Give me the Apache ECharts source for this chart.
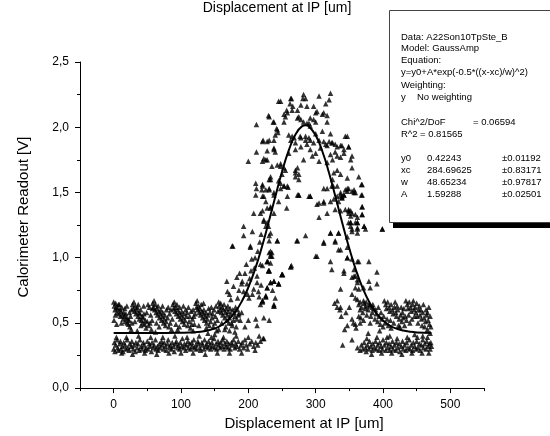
<!DOCTYPE html>
<html><head><meta charset="utf-8">
<script src="https://cdn.jsdelivr.net/npm/echarts@6/dist/echarts.min.js"></script>
<style>html,body{margin:0;padding:0;background:#fff}#c{width:550px;height:436px}</style>
</head><body><div id="c"></div>
<script>
const xTicks = [0,100,200,300,400,500];
const xMinorTicks = [-50,50,150,250,350,450,550];
const fitX = [0,50,100,120,140,150,160,170,180,190,200,210,220,230,240,250,260,270,280,285,290,300,310,320,330,340,350,360,370,380,390,400,410,420,430,440,450,472];
const fitY = [0.422,0.422,0.424,0.428,0.442,0.457,0.482,0.521,0.580,0.662,0.772,0.912,1.080,1.269,1.467,1.658,1.822,1.944,2.008,2.015,2.006,1.938,1.814,1.647,1.455,1.257,1.070,0.903,0.765,0.656,0.575,0.519,0.480,0.456,0.441,0.432,0.427,0.423];

const lowerLeft = [[0,0.30],[1,0.35],[2,0.28],[3,0.33],[5,0.37],[6,0.31],[7,0.29],[9,0.34],[10,0.36],[11,0.30],[13,0.32],[14,0.28],[15,0.35],[17,0.33],[18,0.30],[20,0.37],[21,0.31],[23,0.29],[24,0.34],[26,0.32],[27,0.36],[29,0.30],[30,0.33],[32,0.28],[33,0.35],[35,0.31],[36,0.34],[38,0.29],[39,0.37],[41,0.32],[42,0.30],[44,0.35],[45,0.33],[47,0.29],[48,0.31],[50,0.36],[51,0.30],[53,0.34],[54,0.32],[56,0.28],[57,0.35],[59,0.31],[60,0.33],[62,0.37],[63,0.30],[65,0.32],[66,0.29],[68,0.34],[69,0.31],[71,0.36],[72,0.33],[74,0.30],[75,0.35],[77,0.32],[78,0.29],[80,0.34],[81,0.37],[83,0.31],[84,0.33],[86,0.30],[87,0.35],[89,0.32],[90,0.28],[92,0.34],[93,0.36],[95,0.31],[96,0.33],[98,0.30],[99,0.35],[101,0.32],[102,0.38],[104,0.31],[105,0.34],[107,0.29],[108,0.33],[110,0.36],[111,0.31],[113,0.34],[114,0.30],[116,0.35],[117,0.32],[119,0.37],[120,0.31],[122,0.33],[123,0.30],[125,0.36],[126,0.34],[128,0.31],[129,0.29],[131,0.35],[132,0.33],[134,0.30],[135,0.37],[137,0.32],[138,0.34],[140,0.31],[141,0.36],[143,0.33],[144,0.30],[146,0.35],[147,0.32],[149,0.38],[150,0.31],[152,0.34],[153,0.30],[155,0.36],[156,0.33],[158,0.31],[159,0.35],[161,0.32],[162,0.37],[164,0.30],[165,0.34],[167,0.32],[168,0.36],[170,0.31],[171,0.34],[173,0.30],[175,0.35],[176,0.33],[178,0.37],[180,0.31],[181,0.34],[183,0.32],[185,0.36],[187,0.30],[189,0.33],[191,0.35],[193,0.31],[195,0.37],[197,0.33],[199,0.30],[202,0.34],[205,0.36],[208,0.32],[211,0.35],[214,0.33],[218,0.36],[222,0.38],
[4,0.39],[12,0.27],[19,0.39],[28,0.26],[37,0.40],[46,0.27],[55,0.39],[64,0.26],[73,0.39],[82,0.27],[91,0.40],[100,0.27],[109,0.39],[118,0.27],[127,0.40],[136,0.26],[145,0.39],[154,0.27],[163,0.39],[172,0.27],[182,0.40],[190,0.27],[200,0.39],[210,0.29],[216,0.40]];

const upperLeft = [[0,0.66],[1,0.63],[2,0.60],[3,0.65],[4,0.62],[5,0.58],[6,0.61],[7,0.64],[8,0.57],[9,0.60],[10,0.55],[11,0.59],[12,0.62],[13,0.56],[14,0.53],[15,0.58],[16,0.55],[17,0.51],[18,0.57],[19,0.54],[20,0.50],[21,0.53],[22,0.49],[23,0.52],[24,0.47],
[28,0.64],[29,0.61],[30,0.66],[31,0.59],[32,0.63],[33,0.57],[34,0.60],[35,0.62],[36,0.55],[37,0.58],[38,0.53],[39,0.57],[40,0.60],[41,0.52],[42,0.55],[43,0.50],[44,0.54],[45,0.57],[46,0.49],[47,0.52],[48,0.46],[50,0.51],[52,0.48],[54,0.50],[56,0.45],
[58,0.65],[59,0.62],[60,0.67],[61,0.60],[62,0.64],[63,0.58],[64,0.61],[65,0.56],[66,0.63],[67,0.59],[68,0.54],[69,0.57],[70,0.60],[71,0.52],[72,0.55],[73,0.58],[74,0.50],[75,0.53],[76,0.56],[77,0.48],[78,0.51],[80,0.54],[82,0.47],[84,0.50],[86,0.45],
[88,0.64],[89,0.61],[90,0.66],[91,0.59],[92,0.62],[93,0.57],[94,0.64],[95,0.60],[96,0.55],[97,0.58],[98,0.62],[99,0.53],[100,0.56],[101,0.59],[102,0.51],[103,0.54],[104,0.57],[105,0.49],[106,0.52],[108,0.55],[110,0.48],[112,0.51],[114,0.46],[116,0.49],
[122,0.65],[123,0.62],[124,0.67],[125,0.60],[126,0.63],[127,0.58],[128,0.61],[129,0.56],[130,0.64],[131,0.59],[132,0.54],[133,0.57],[134,0.60],[135,0.52],[136,0.55],[137,0.58],[138,0.50],[139,0.53],[140,0.56],[142,0.48],[144,0.51],[146,0.54],[148,0.47],[150,0.50],
[156,0.66],[157,0.63],[158,0.60],[159,0.65],[160,0.58],[161,0.62],[162,0.56],[163,0.60],[164,0.64],[165,0.54],[166,0.58],[167,0.61],[168,0.52],[169,0.56],[170,0.59],[171,0.50],[172,0.54],[174,0.57],[176,0.48],[178,0.52],[180,0.55],[182,0.47],
[26,0.45],[53,0.62],[119,0.55],[153,0.44],[35,0.44],[62,0.43],[95,0.45],[118,0.44],[140,0.42],[165,0.45],[172,0.44],
[0.5,0.52],[2.5,0.56],[4.5,0.49],[8.5,0.64],[11.5,0.50],[16.5,0.61],[19.5,0.63],[23.5,0.58],[25,0.55],[26.5,0.60],[27,0.50],[31.5,0.51],[36.5,0.64],[40.5,0.48],[44.5,0.63],[49,0.58],[51,0.64],[55,0.56],[57,0.52],[57.5,0.61],[63.5,0.50],[67.5,0.47],[72.5,0.63],[78.5,0.60],[81,0.62],[83,0.57],[85,0.60],[87,0.53],[92.5,0.49],[97.5,0.47],[103.5,0.63],[107,0.60],[109,0.58],[111,0.62],[113,0.55],[115,0.59],[117,0.53],[118,0.60],[120,0.49],[121,0.57],[126.5,0.48],[133.5,0.65],[137.5,0.46],[141,0.61],[143,0.58],[145,0.62],[147,0.57],[149,0.60],[151,0.55],[152,0.63],[154,0.52],[155,0.59],[160.5,0.50],[166.5,0.47],[169.5,0.63],[173,0.61],[175,0.50],[177,0.60],[179,0.58],[181,0.62],[183,0.53],[184,0.60],[186,0.57],[188,0.52]];

const leftFlank = [[168,0.82],[169,0.74],[174,0.68],[177,1.09],[184,0.69],[187,0.88],[190,0.80],[191,0.82],[193,0.74],[198,0.80],[199,0.72],[201,0.69],[204,0.90],[205,0.99],[206,0.72],[208,0.76],[211,0.53],[213,0.86],[213,0.81],[213,0.48],[215,0.74],[216,0.70],[218,0.95],[219,0.79],[221,0.94],[223,0.54],[229,0.97],[230,0.90],[231,1.04],[231,0.90],[231,0.52],[233,1.05],[233,0.96],[233,0.81],[238,0.82],[238,0.64],[240,0.69],[245,0.80],[250,0.87],[251,0.87],[263,0.93],[264,0.94],[228,0.77],[226,0.70],[218,0.64],[221,0.66],[236,0.75],[185,0.56],[190,0.58],[195,0.47],[180,0.43],[200,0.52],[223,0.38],[150,0.41],[156,0.45],[226,0.70],[221,0.67],[238,0.63],[230,0.90],[233,1.01],[228,0.97],[250,0.87],[245,0.80],
[172,0.72],[178,0.78],[183,0.85],[186,0.75],[195,0.88],[197,0.95],[202,0.84],[209,0.92],[210,1.00],[214,1.05],[217,1.12],[219,1.18]];

const peak = [[245,2.20],[264,2.22],[262,2.18],[282,2.25],[281,2.22],[305,2.24],[322,2.26],[320,2.21],[315,2.18],[278,2.17],[287,2.16],[297,2.16],[257,2.13],[265,2.13],[273,2.13],[302,2.12],[230,2.09],[237,2.04],[212,2.02],[253,2.10],[253,2.04],[273,2.07],[278,2.06],[287,2.03],[292,2.07],[300,2.04],[310,2.10],[317,2.04],[242,1.99],[244,1.96],[222,1.90],[231,1.90],[238,1.83],[228,1.82],[212,1.81],[200,1.74],[226,1.75],[235,1.70],[248,1.70],[255,1.67],[250,1.64],[270,1.67],[270,1.65],[275,1.64],[260,1.80],[270,1.83],[278,1.85],[287,1.87],[292,1.83],[300,1.80],[307,1.84],[315,1.87],[320,1.89],[325,1.88],[329,1.87],[339,1.86],[349,1.85],[265,1.93],[278,1.92],[285,1.93],[292,1.90],[300,1.95],[310,1.97],[322,1.95],[344,1.93],[282,1.75],[295,1.78],[305,1.74],[317,1.73],[325,1.75],[332,1.78],[342,1.80],[354,1.78],[327,1.65],[325,1.60],[332,1.67],[337,1.64],[347,1.61],[354,1.69],[364,1.62],[211,1.57],[221,1.56],[233,1.60],[245,1.59],[253,1.55],[259,1.54],[212,1.53],[220,1.52],[231,1.53],[238,1.50],[248,1.57],[211,1.48],[221,1.47],[238,1.48],[226,1.43],[258,1.47],[275,1.48],[292,1.47],[302,1.41],[312,1.43],[317,1.53],[326,1.55],[337,1.48],[339,1.47],[347,1.53],[354,1.51],[357,1.50],[368,1.56],[368,1.48],[208,1.34],[218,1.34],[233,1.38],[245,1.43],[257,1.38],[327,1.45],[334,1.43],[344,1.37],[349,1.36],[352,1.32],[359,1.33],[369,1.33],[369,1.39],[223,1.28],[228,1.27],[226,1.24],[231,1.17],[193,1.24],[193,1.17],[206,1.20],[176,1.09],[203,1.09],[203,1.08],[231,1.13],[243,1.13],[273,1.13],[312,1.12],[329,1.13],[334,1.19],[322,1.19],[349,1.27],[352,1.24],[362,1.27],[372,1.24],[362,1.19],[374,1.22],[399,1.22],[354,1.20],[235,1.04],[233,1.02],[302,1.01],[347,1.00],[334,1.06],
[263,2.22],[285,2.22],[248,2.20],[255,2.08],[258,2.11],[266,2.16],[275,2.08],[282,2.04],[290,2.03],[292,2.01],[297,2.06],[300,2.11],[312,2.11],[317,2.09],[231,2.08],[238,2.04],[228,1.89],[221,1.89],[238,1.90],[243,1.98],[240,1.94],
[260,1.94],[263,1.90],[268,1.92],[270,1.88],[277,1.93],[285,1.90],[290,1.92],[297,1.88],[305,1.90],[312,1.89],[317,1.86],[324,1.88],[332,1.85],[337,1.86],[347,1.93],[342,1.83],[349,1.85],[322,1.79],[329,1.81],[337,1.77],[352,1.75],
[223,1.76],[228,1.75],[221,1.74],[238,1.84],[240,1.81],[243,1.71],[248,1.72],[253,1.69],[233,1.62],[231,1.60],[248,1.53],[253,1.55],[258,1.55],[221,1.55],[226,1.52],[231,1.52],[223,1.47],[233,1.39],[228,1.38],[238,1.34],[221,1.36],[273,1.69],[270,1.62],[275,1.60],[292,1.47],[305,1.42],[275,1.48],
[223,1.29],[230,1.24],[233,1.19],[243,1.13],[272,1.13],[235,1.01],[228,0.97],[231,0.90],[263,0.93],[250,0.87],[238,0.82],[233,0.81],[228,0.77],[245,0.80],[226,0.71],[238,0.63],[221,0.67]];

const rightFlank = [[312,1.53],[324,1.55],[332,1.55],[337,1.50],[344,1.52],[349,1.53],[332,1.47],[339,1.46],[342,1.48],[305,1.31],[317,1.34],[322,1.43],[312,1.42],[329,1.37],[337,1.36],[349,1.37],[354,1.34],[362,1.31],[352,1.27],[359,1.27],[362,1.23],[322,1.19],[334,1.19],[312,1.11],[329,1.12],[347,1.16],[337,1.06],[354,0.99],[362,0.97],[322,0.97],[324,0.91],[342,0.88],[357,0.86],[362,0.83],[337,0.76],[362,0.68],[332,0.67],[337,0.62],[300,1.01],[285,1.17],[290,1.47],[273,1.48],
[369,1.56],[357,1.52],[359,1.50],[347,1.51],[342,1.48],[339,1.46],[369,1.48],[352,1.36],[349,1.34],[369,1.39],[369,1.33],[352,1.27],[362,1.27],[354,1.22],[362,1.22],[372,1.24],[399,1.22],[347,1.08],[347,1.00],[364,0.97],[379,0.97],[342,0.90],[357,0.91],[359,0.86],[354,0.85],[391,0.89],[362,0.81],[379,0.82],[391,0.80],[359,0.77],[364,0.76],[371,0.77],[381,0.77],[354,0.72],[359,0.69],[371,0.67],[366,0.66],[374,0.63],[379,0.64],[384,0.62]];

const upperRight = [[364,0.64],[366,0.60],[368,0.62],[370,0.58],[372,0.65],[374,0.61],[376,0.56],[378,0.60],[380,0.63],[382,0.55],[384,0.58],[386,0.61],[388,0.53],[390,0.57],[392,0.51],[394,0.55],[396,0.49],[398,0.53],[400,0.47],[402,0.67],[404,0.64],[405,0.61],[407,0.66],[409,0.62],[410,0.59],[412,0.64],[414,0.60],[415,0.57],[417,0.62],[419,0.58],[420,0.55],[422,0.60],[424,0.53],[426,0.56],[428,0.51],[430,0.54],[432,0.48],[434,0.67],[436,0.64],[437,0.61],[439,0.66],[441,0.62],[442,0.59],[444,0.64],[446,0.60],[448,0.62],[449,0.58],[451,0.55],[453,0.60],[455,0.56],[457,0.53],[459,0.58],[461,0.54],[463,0.51],[465,0.56],[467,0.52],[469,0.49],[470,0.55],[466,0.45],[470,0.42],[412,0.46],[425,0.47],[350,0.62],[345,0.58],[338,0.55],[356,0.50],[360,0.46],[343,0.45],[328,0.65],[332,0.62],[336,0.60],[347,0.48],[359,0.49],[366,0.50],[364,0.55],[354,0.53],
[367,0.54],[371,0.52],[375,0.66],[381,0.50],[385,0.64],[389,0.60],[393,0.62],[397,0.58],[401,0.55],[403,0.50],[406,0.53],[408,0.48],[411,0.52],[416,0.50],[418,0.66],[421,0.63],[423,0.48],[427,0.62],[429,0.58],[431,0.61],[433,0.55],[435,0.52],[438,0.56],[440,0.50],[443,0.53],[445,0.67],[447,0.55],[450,0.65],[452,0.50],[454,0.63],[456,0.60],[458,0.48],[460,0.64],[462,0.47],[464,0.60],[466,0.58],[468,0.62],[471,0.47]];

const lowerRight = [[340,0.33],[354,0.37],[362,0.31],[366,0.29],[368,0.33],[370,0.30],[372,0.35],[374,0.31],[375,0.28],[377,0.33],[379,0.30],[380,0.36],[382,0.32],[384,0.29],[385,0.34],[387,0.31],[389,0.36],[390,0.30],[392,0.33],[394,0.29],[395,0.35],[397,0.32],[399,0.30],[400,0.37],[402,0.33],[404,0.29],[405,0.35],[407,0.31],[409,0.34],[410,0.29],[412,0.32],[414,0.36],[415,0.30],[417,0.33],[419,0.29],[420,0.35],[422,0.31],[424,0.34],[425,0.28],[427,0.32],[429,0.36],[430,0.30],[432,0.33],[434,0.29],[435,0.35],[437,0.31],[439,0.37],[440,0.30],[442,0.33],[444,0.29],[445,0.35],[447,0.32],[449,0.30],[450,0.36],[452,0.31],[454,0.34],[455,0.29],[457,0.33],[459,0.37],[460,0.31],[462,0.34],[464,0.30],[465,0.36],[467,0.32],[469,0.34],[470,0.30],[471,0.35],[472,0.32],[378,0.42],[395,0.44],[410,0.40],[447,0.41],[459,0.40],
[376,0.38],[383,0.26],[391,0.39],[398,0.27],[406,0.39],[413,0.27],[421,0.38],[428,0.26],[436,0.39],[443,0.27],[451,0.39],[458,0.27],[466,0.39],[468,0.27]];

const boxLines = [
  ['Data: A22Son10TpSte_B', 401, 37],
  ['Model: GaussAmp', 401, 48.5],
  ['Equation:', 401, 60.5],
  ['y=y0+A*exp(-0.5*((x-xc)/w)^2)', 401, 72.8],
  ['Weighting:', 401, 85],
  ['y', 401, 97.3], ['No weighting', 417, 97.3],
  ['Chi^2/DoF', 401, 122], ['= 0.06594', 473, 122],
  ['R^2', 401, 134], ['= 0.81565', 420, 134],
  ['y0', 401, 158.3], ['0.42243', 427, 158.3], ['\u00b10.01192', 502, 158.3],
  ['xc', 401, 170.6], ['284.69625', 427, 170.6], ['\u00b10.83171', 502, 170.6],
  ['w', 401, 182.6], ['48.65234', 427, 182.6], ['\u00b10.97817', 502, 182.6],
  ['A', 401, 194.3], ['1.59288', 427, 194.3], ['\u00b10.02501', 502, 194.3]
];

const FONT = '"Liberation Sans", Arial, Helvetica, sans-serif';
const scatterData = [].concat(lowerLeft, upperLeft, leftFlank, peak, rightFlank, upperRight, lowerRight);
const fitData = fitX.map((x, i) => [x, fitY[i]]);

const chart = echarts.init(document.getElementById('c'), null, {renderer: 'canvas'});
const graphics = [
  {type: 'text', z: 100, style: {text: 'Displacement at IP [um]', x: 277, y: 8.5, textAlign: 'center', textVerticalAlign: 'middle', font: '14px ' + FONT, fill: '#000'}},
  {type: 'rect', z: 100, shape: {x: 393, y: 222, width: 160, height: 6}, style: {fill: '#000'}},
  {type: 'rect', z: 101, shape: {x: 389.5, y: 10.5, width: 170, height: 212}, style: {fill: '#fff', stroke: '#444', lineWidth: 1}}
];
boxLines.forEach(l => graphics.push({type: 'text', z: 102, style: {text: l[0], x: l[1], y: l[2], textAlign: 'left', textVerticalAlign: 'middle', font: '9.5px ' + FONT, fill: '#000'}}));

chart.setOption({
  animation: false,
  backgroundColor: '#fff',
  grid: {left: 80, right: 66, top: 62, bottom: 47},
  xAxis: [{
    type: 'value', min: -50, max: 550, position: 'bottom',
    axisLine: {onZero: false, lineStyle: {color: '#000', width: 1}},
    axisTick: {customValues: xTicks, length: 5, lineStyle: {color: '#000'}},
    axisLabel: {customValues: xTicks, color: '#000', fontSize: 12, margin: 11, fontFamily: FONT},
    splitLine: {show: false},
    name: 'Displacement at IP [um]', nameLocation: 'middle', nameGap: 21,
    nameTextStyle: {color: '#000', fontSize: 15, fontFamily: FONT, padding: [0, 0, 0, 44]}
  }, {
    type: 'value', min: -50, max: 550, position: 'bottom',
    axisLine: {show: false, onZero: false},
    axisTick: {customValues: xMinorTicks, length: 3, lineStyle: {color: '#000'}},
    axisLabel: {show: false},
    splitLine: {show: false}
  }],
  yAxis: {
    type: 'value', min: 0, max: 2.5, interval: 0.5,
    axisLine: {show: true, onZero: false, lineStyle: {color: '#000', width: 1}},
    axisTick: {show: true, length: 5, lineStyle: {color: '#000'}},
    minorTick: {show: true, splitNumber: 2, length: 3, lineStyle: {color: '#000'}},
    axisLabel: {color: '#000', fontSize: 12, margin: 11, fontFamily: FONT, formatter: v => v.toFixed(1).replace('.', ',')},
    splitLine: {show: false},
    name: 'Calorimeter Readout [V]', nameLocation: 'middle', nameGap: 49,
    nameTextStyle: {color: '#000', fontSize: 15, fontFamily: FONT, padding: [0, 0, 0, 16]}
  },
  series: [{
    type: 'scatter', xAxisIndex: 0, data: scatterData,
    symbol: 'triangle', symbolSize: 5.5, itemStyle: {color: '#000'}, z: 2
  }, {
    type: 'line', xAxisIndex: 0, data: fitData, smooth: true, showSymbol: false,
    lineStyle: {color: '#000', width: 2}, z: 3
  }],
  graphic: graphics
});
</script></body></html>
